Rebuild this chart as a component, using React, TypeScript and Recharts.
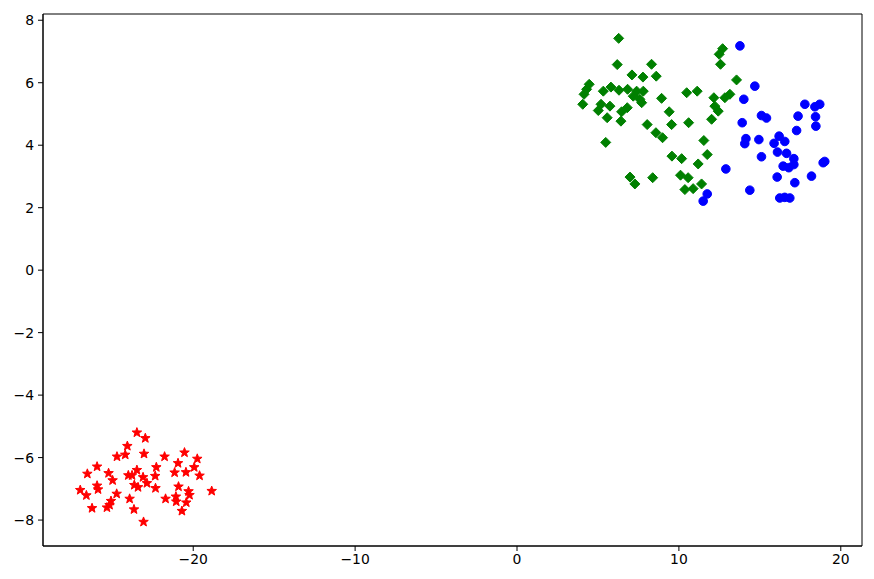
import React from 'react';
import { ScatterChart, Scatter, XAxis, YAxis, ReferenceArea } from 'recharts';

// cluster points, [x, y]
const redStars: [number, number][] = [
  [-23.48, -5.2], [-22.96, -5.38], [-24.07, -5.63], [-24.71, -5.97], [-24.2, -5.91],
  [-23.04, -5.88], [-21.77, -5.97], [-20.54, -5.84], [-19.75, -6.04], [-20.94, -6.18],
  [-25.94, -6.29], [-22.28, -6.31], [-19.94, -6.31], [-26.54, -6.52], [-25.23, -6.5],
  [-24.01, -6.57], [-23.78, -6.57], [-23.48, -6.4], [-21.15, -6.48], [-20.45, -6.47],
  [-19.61, -6.58], [-22.35, -6.59], [-23.1, -6.63], [-24.98, -6.73], [-22.86, -6.82],
  [-23.64, -6.88], [-23.41, -6.95], [-22.33, -6.98], [-20.91, -6.93], [-25.94, -6.9],
  [-25.88, -7.02], [-26.98, -7.04], [-26.6, -7.21], [-24.73, -7.16], [-20.29, -7.08],
  [-20.23, -7.2], [-18.86, -7.07], [-23.93, -7.32], [-21.71, -7.32], [-21.07, -7.25],
  [-21.05, -7.41], [-20.43, -7.44], [-25.08, -7.39], [-25.17, -7.52], [-25.33, -7.6],
  [-26.25, -7.62], [-23.66, -7.66], [-20.7, -7.71], [-23.07, -8.06],
];

const greenDiamonds: [number, number][] = [
  [6.28, 7.42], [6.19, 6.58], [8.31, 6.59], [7.1, 6.25], [7.78, 6.18], [8.6, 6.21],
  [4.46, 5.95], [4.3, 5.79], [4.14, 5.63], [4.06, 5.31], [5.33, 5.73], [5.8, 5.86],
  [6.3, 5.76], [6.83, 5.79], [7.39, 5.73], [7.8, 5.73], [7.18, 5.57], [7.59, 5.47],
  [7.7, 5.36], [8.93, 5.5], [5.19, 5.31], [5.74, 5.25], [5.02, 5.11], [6.81, 5.2],
  [6.46, 5.07], [5.57, 4.88], [6.42, 4.77], [9.4, 5.07], [9.55, 4.66], [8.04, 4.66],
  [10.6, 4.72], [10.48, 5.68], [11.13, 5.73], [8.58, 4.4], [8.99, 4.24], [5.48, 4.09],
  [11.54, 4.15], [9.57, 3.65], [10.17, 3.57], [11.19, 3.4], [6.98, 2.98], [7.28, 2.76],
  [8.38, 2.96], [10.1, 3.04], [10.57, 2.96], [10.37, 2.58], [10.88, 2.61], [11.4, 2.76],
  [12.7, 7.09], [12.49, 6.91], [12.57, 6.59], [13.56, 6.09], [12.16, 5.52], [12.84, 5.52],
  [13.15, 5.63], [12.22, 5.25], [12.43, 5.09], [12.02, 4.83], [11.75, 3.7],
];

const blueCircles: [number, number][] = [
  [13.77, 7.18], [14.69, 5.89], [14.01, 5.47], [13.91, 4.72], [14.14, 4.21], [14.07, 4.05],
  [14.94, 4.18], [15.1, 4.95], [15.41, 4.87], [15.1, 3.63], [12.9, 3.24], [14.38, 2.56],
  [11.75, 2.44], [11.5, 2.21], [17.78, 5.31], [18.7, 5.31], [18.4, 5.23], [17.36, 4.93],
  [18.44, 4.91], [18.46, 4.61], [17.27, 4.47], [16.19, 4.29], [16.54, 4.12], [15.88, 4.06],
  [16.09, 3.78], [16.65, 3.74], [17.1, 3.57], [17.1, 3.38], [16.44, 3.33], [16.79, 3.28],
  [18.91, 3.44], [19.01, 3.48], [16.07, 2.98], [18.19, 3.01], [17.16, 2.8], [16.23, 2.31],
  [16.54, 2.33], [16.85, 2.31],
];

const xTicks = [-20, -10, 0, 10, 20];
const yTicks = [-8, -6, -4, -2, 0, 2, 4, 6, 8];
const xDomain: [number, number] = [-29.28, 21.31];
const yDomain: [number, number] = [-8.83, 8.2];

const toRows = (pts: [number, number][]) => pts.map(([x, y]) => ({ x, y }));
const fmt = (v: number) => String(v).replace('-', '\u2212');

const Star = (props: any) => {
  const { cx, cy } = props;
  const outer = 5;
  const inner = 2.1;
  const pts: string[] = [];
  for (let i = 0; i < 10; i++) {
    const r = i % 2 === 0 ? outer : inner;
    const a = -Math.PI / 2 + (i * Math.PI) / 5;
    pts.push(`${cx + r * Math.cos(a)},${cy + r * Math.sin(a)}`);
  }
  return <polygon points={pts.join(' ')} fill="#ff0000" stroke="#ff0000" strokeWidth={1} />;
};

const Diamond = (props: any) => {
  const { cx, cy } = props;
  const h = 5;
  return (
    <polygon
      points={`${cx},${cy - h} ${cx + h},${cy} ${cx},${cy + h} ${cx - h},${cy}`}
      fill="#008000"
      stroke="#008000"
      strokeWidth={1}
    />
  );
};

const Dot = (props: any) => {
  const { cx, cy } = props;
  return <circle cx={cx} cy={cy} r={4.3} fill="#0000ff" stroke="#0000ff" strokeWidth={1} />;
};

const tickStyle = { fontFamily: 'DejaVu Sans', fontSize: 13.9, fill: '#000' };

export default function App() {
  return (
    <ScatterChart width={866} height={571} margin={{ top: 6, right: 12, bottom: 3, left: 0 }}>
      <XAxis
        type="number"
        dataKey="x"
        domain={xDomain}
        ticks={xTicks}
        allowDataOverflow
        height={30}
        tickSize={5}
        tickMargin={3}
        tick={tickStyle}
        tickFormatter={fmt}
        stroke="#000"
        tickLine={{ stroke: '#000' }}
      />
      <YAxis
        type="number"
        dataKey="y"
        domain={yDomain}
        ticks={yTicks}
        allowDataOverflow
        width={35}
        tickSize={5}
        tickMargin={4}
        tick={tickStyle}
        tickFormatter={fmt}
        stroke="#000"
        tickLine={{ stroke: '#000' }}
      />
      <ReferenceArea
        x1={xDomain[0]}
        x2={xDomain[1]}
        y1={yDomain[0]}
        y2={yDomain[1]}
        stroke="#000"
        strokeWidth={1}
        fill="none"
        fillOpacity={0}
      />
      <Scatter data={toRows(redStars)} shape={Star} isAnimationActive={false} />
      <Scatter data={toRows(greenDiamonds)} shape={Diamond} isAnimationActive={false} />
      <Scatter data={toRows(blueCircles)} shape={Dot} isAnimationActive={false} />
    </ScatterChart>
  );
}
